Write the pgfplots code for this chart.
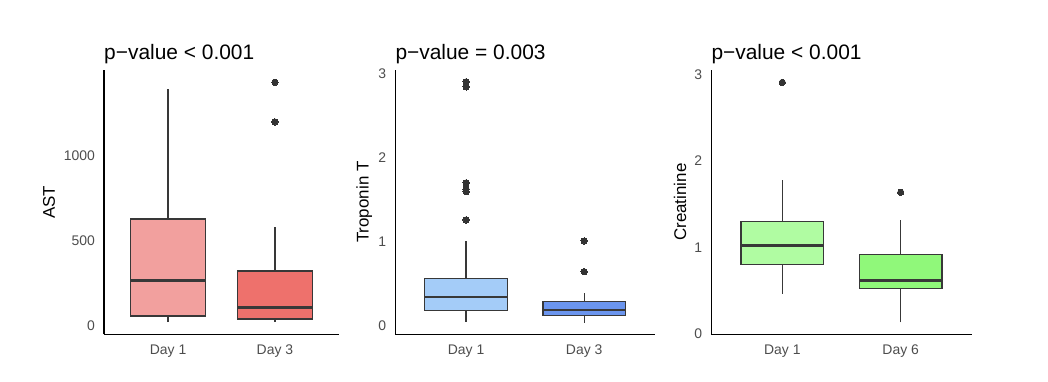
\documentclass[border=0pt]{standalone}
\usepackage{fontspec}
\setmainfont{Liberation Sans}
\usepackage{pgfplots}
\pgfplotsset{compat=1.18}
\definecolor{tickgray}{HTML}{4D4D4D}
\definecolor{boxc}{HTML}{383838}
\definecolor{ptc}{HTML}{333333}
\definecolor{rA}{HTML}{F2A09E}
\definecolor{rB}{HTML}{EE716C}
\definecolor{bA}{HTML}{A4CCF8}
\definecolor{bB}{HTML}{6B95EE}
\definecolor{gA}{HTML}{B0FCA2}
\definecolor{gB}{HTML}{90F87A}
\pgfplotsset{
  panel/.style={
    scale only axis,
    axis x line*=bottom, axis y line*=left,
    axis line style={black, line width=1.1bp, -},
    major tick length=0pt,
    xmin=0.4, xmax=2.6, xtick={1,2},
    tick label style={font=\fontsize{14}{15}\selectfont, text=tickgray},
    /pgf/number format/assume math mode=true,
    /pgf/number format/1000 sep={},
    scaled y ticks=false,
    yticklabel style={anchor=east, inner sep=0pt, xshift=-9bp},
    xticklabel style={anchor=north, inner sep=0pt, yshift=-10.5bp},
    title style={at={(0,1)}, anchor=base west, inner sep=0pt, yshift=5bp, font=\fontsize{21}{23}\selectfont},
    label style={font=\fontsize{17}{19}\selectfont},
    height=264.3bp,
    clip=false,
  },
  wh/.style={draw=boxc, line width=1.3bp, no marks},
  bx/.style={fill=#1, draw=boxc, line width=1.3bp, no marks, line join=miter},
  md/.style={draw=boxc, line width=2.8bp, no marks},
  out/.style={only marks, mark=*, mark size=3.2pt, mark options={fill=ptc, draw=ptc, line width=0pt}},
}
\begin{document}
\begin{tikzpicture}
\useasboundingbox (0,0) rectangle (1048bp,382bp);
% Panel 1: AST
\begin{axis}[panel, at={(104bp,47.7bp)}, anchor=south west, width=235bp,
  ymin=-48.6, ymax=1500, ytick={0,500,1000},
  xticklabels={Day 1, Day 3},
  title={p−value < 0.001},
  ylabel={AST},
  ylabel style={at={(axis description cs:-0.234,0.5)}, anchor=center, rotate=0}]
% Day 1
\addplot[wh] coordinates {(1,23) (1,59)};
\addplot[wh] coordinates {(1,627) (1,1389)};
\addplot[bx=rA] coordinates {(0.65,59) (1.35,59) (1.35,627) (0.65,627)} -- cycle;
\addplot[md] coordinates {(0.65,268) (1.35,268)};
% Day 3
\addplot[wh] coordinates {(2,22) (2,41)};
\addplot[wh] coordinates {(2,322) (2,578)};
\addplot[bx=rB] coordinates {(1.65,41) (2.35,41) (2.35,322) (1.65,322)} -- cycle;
\addplot[md] coordinates {(1.65,107) (2.35,107)};
\addplot[out] coordinates {(2,1196) (2,1428)};
\end{axis}
% Panel 2: Troponin T
\begin{axis}[panel, at={(395.3bp,47.7bp)}, anchor=south west, width=259.7bp,
  ymin=-0.099, ymax=3.04, ytick={0,1,2,3},
  xticklabels={Day 1, Day 3},
  title={p−value = 0.003},
  ylabel={Troponin T},
  ylabel style={at={(axis description cs:-0.12,0.5)}, anchor=center}]
% Day 1
\addplot[wh] coordinates {(1,0.05) (1,0.18)};
\addplot[wh] coordinates {(1,0.566) (1,1.01)};
\addplot[bx=bA] coordinates {(0.65,0.18) (1.35,0.18) (1.35,0.566) (0.65,0.566)} -- cycle;
\addplot[md] coordinates {(0.65,0.344) (1.35,0.344)};
\addplot[out] coordinates {(1,1.26) (1,1.595) (1,1.625) (1,1.70) (1,2.84) (1,2.90)};
% Day 3
\addplot[wh] coordinates {(2,0.04) (2,0.123)};
\addplot[wh] coordinates {(2,0.289) (2,0.39)};
\addplot[bx=bB] coordinates {(1.65,0.123) (2.35,0.123) (2.35,0.289) (1.65,0.289)} -- cycle;
\addplot[md] coordinates {(1.65,0.19) (2.35,0.19)};
\addplot[out] coordinates {(2,0.645) (2,1.01)};
\end{axis}
% Panel 3: Creatinine
\begin{axis}[panel, at={(711.3bp,47.7bp)}, anchor=south west, width=260.4bp,
  ymin=-0.003, ymax=3.05, ytick={0,1,2,3},
  xticklabels={Day 1, Day 6},
  title={p−value < 0.001},
  ylabel={Creatinine},
  ylabel style={at={(axis description cs:-0.12,0.5)}, anchor=center}]
% Day 1
\addplot[wh] coordinates {(1,0.465) (1,0.807)};
\addplot[wh] coordinates {(1,1.299) (1,1.776)};
\addplot[bx=gA] coordinates {(0.65,0.807) (1.35,0.807) (1.35,1.299) (0.65,1.299)} -- cycle;
\addplot[md] coordinates {(0.65,1.022) (1.35,1.022)};
\addplot[out] coordinates {(1,2.907)};
% Day 6
\addplot[wh] coordinates {(2,0.134) (2,0.53)};
\addplot[wh] coordinates {(2,0.918) (2,1.315)};
\addplot[bx=gB] coordinates {(1.65,0.53) (2.35,0.53) (2.35,0.918) (1.65,0.918)} -- cycle;
\addplot[md] coordinates {(1.65,0.618) (2.35,0.618)};
\addplot[out] coordinates {(2,1.638)};
\end{axis}
\end{tikzpicture}
\end{document}
